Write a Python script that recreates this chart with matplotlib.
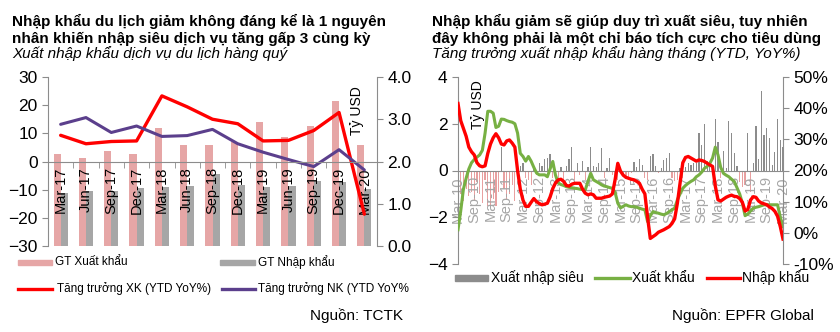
import matplotlib
matplotlib.use("Agg")
import matplotlib.pyplot as plt
from matplotlib.lines import Line2D
from matplotlib.patches import Rectangle
import numpy as np

plt.rcParams["font.family"] = ["Liberation Sans", "DejaVu Sans"]

# ---- left chart: quarterly tourism services trade ----
quarters = ["Mar-17", "Jun-17", "Sep-17", "Dec-17", "Mar-18", "Jun-18", "Sep-18",
            "Dec-18", "Mar-19", "Jun-19", "Sep-19", "Dec-19", "Mar-20"]
export_val = [2.18, 2.09, 2.26, 2.18, 2.79, 2.38, 2.40, 2.45, 2.93, 2.59, 2.83, 3.43, 2.39]
import_val = [1.25, 1.30, 1.30, 1.38, 1.39, 1.43, 1.71, 1.45, 1.39, 1.43, 1.55, 1.52, 1.35]
export_growth = [9.3, 6.3, 7.1, 7.3, 23.3, 19.4, 15.0, 13.4, 7.3, 7.5, 11.0, 17.4, -18.7]
import_growth = [13.2, 15.6, 10.3, 12.6, 8.9, 9.2, 11.4, 6.3, 3.3, 0.7, -1.8, 4.2, -3.0]

# ---- right chart: monthly goods trade, Mar-10 .. Mar-20 ----
month_labels = ["Mar-10", "Sep-10", "Mar-11", "Sep-11", "Mar-12", "Sep-12", "Mar-13",
                "Sep-13", "Mar-14", "Sep-14", "Mar-15", "Sep-15", "Mar-16", "Sep-16",
                "Mar-17", "Sep-17", "Mar-18", "Sep-18", "Mar-19", "Sep-19", "Mar-20"]
trade_balance = [
    -1.2, -1.0, -1.3, -0.8, -1.1, -0.9, -1.3, -0.5, -1.0, -1.4,
    -0.4, -1.5, -1.6, -1.2, -1.5, -0.9, 1.0, -0.8, -1.2, -1.0,
    -0.6, -1.3, -0.3, 0.2, 0.3, -0.3, -0.4, -0.6, 0.1, -0.2,
    0.3, 0.2, 0.5, 0.55, 0.7, -0.3, -0.1, -0.5, 0.15, -0.6,
    0.2, 0.5, 1.0, -0.4, 0.3, -0.2, 0.4, -0.4, 0.15, 1.0,
    0.2, 0.15, 0.3, 0.95, -0.3, 0.1, 0.55, -0.2, -0.3, -0.4,
    0.1, -0.2, -0.25, -0.3, -0.1, 0.35, 0.15, 0.5, 0.25, -0.3,
    -0.4, 0.6, 0.7, 0.2, -0.1, 0.1, 0.45, 0.55, 0.75, -0.3,
    -0.45, -0.4, 0.1, -0.3, 0.15, 0.3, 0.25, 0.3, 0.3, 1.6,
    1.1, 2.0, 0.4, 0.2, -0.2, 2.2, 1.2, -0.3, 0.85, 0.1,
    2.1, 1.6, 0.75, 0.2, -0.5, -0.7, -0.6, 1.6, -0.9, 0.3,
    1.9, 0.5, 3.4, 1.5, 1.8, 1.4, 0.25, 0.8, 2.2, 1.3,
    1.0,
]
export_yoy = [
    1.0, 7.0, 14.0, 17.5, 20.5, 22.5, 23.5, 24.3, 25.0, 26.5,
    32.0, 39.0, 39.0, 38.4, 33.8, 34.2, 36.5, 36.4, 36.0, 35.7,
    35.5, 35.0, 32.0, 25.5, 24.5, 23.0, 24.5, 23.0, 21.0, 19.2,
    18.6, 18.6, 18.6, 18.0, 20.5, 22.9, 18.5, 16.0, 15.5, 15.2,
    14.8, 14.6, 14.5, 14.3, 14.2, 14.0, 13.9, 13.8, 16.5, 19.1,
    17.0, 16.5, 16.0, 15.4, 15.0, 14.8, 14.5, 14.3, 13.0, 9.5,
    8.0, 8.5, 9.0, 8.6, 8.4, 8.4, 8.2, 7.9, 7.6, 7.4,
    3.6, 5.5, 6.8, 6.5, 6.3, 6.0, 5.8, 6.2, 6.8, 7.4,
    7.9, 10.6, 12.5, 14.3, 15.2, 15.9, 16.5, 17.0, 18.0, 18.6,
    19.5, 20.7, 21.3, 22.3, 24.0, 27.5, 25.0, 21.0, 19.1, 18.5,
    18.0, 17.2, 16.5, 14.5, 12.5, 9.5, 5.5, 6.0, 7.0, 7.9,
    8.2, 8.4, 8.7, 9.0, 9.0, 9.0, 9.0, 9.0, 9.0, 5.0,
    2.0,
]
import_yoy = [
    41.5, 36.0, 33.5, 31.0, 27.5, 26.0, 25.0, 22.5, 21.5, 21.2,
    21.5, 25.5, 28.5, 30.5, 31.8, 30.5, 28.5, 28.2, 29.5, 29.8,
    28.8, 27.5, 20.0, 14.0, 10.5, 8.5, 8.5, 9.8, 11.0, 10.0,
    9.4, 9.0, 9.2, 9.5, 11.5, 14.2, 16.0, 17.0, 17.2, 16.5,
    15.2, 15.0, 15.6, 15.9, 15.9, 15.9, 14.0, 12.7, 12.2, 12.5,
    12.2, 11.1, 11.1, 11.1, 11.4, 11.6, 11.8, 12.5, 17.0, 22.3,
    19.8, 18.5, 17.8, 17.5, 17.2, 17.0, 16.5, 15.9, 14.0, 12.5,
    5.0, -1.8, -1.2, -0.6, 0.2, 0.6, 1.0, 1.5, 2.0, 3.0,
    4.5, 9.5, 16.0, 22.5, 24.2, 24.5, 24.0, 23.5, 23.0, 23.4,
    23.2, 22.9, 22.3, 21.8, 21.3, 15.0, 10.6, 10.2, 10.8, 11.4,
    11.8, 12.1, 11.7, 11.6, 11.0, 9.8, 7.0, 7.5, 10.5, 11.6,
    11.4, 10.2, 9.6, 9.3, 9.0, 8.3, 7.8, 6.9, 5.3, 2.0,
    -2.0,
]

W, H = 840, 332
fig = plt.figure(figsize=(W / 100, H / 100), dpi=100)


def fx(x, y):
    return x / W, 1 - y / H


def axes_px(x0, y0, x1, y1):
    return fig.add_axes([x0 / W, 1 - y1 / H, (x1 - x0) / W, (y1 - y0) / H])


spine_c = "#8c8c8c"

# ================= left chart =================
axl = axes_px(48, 77, 377, 246)
axl2 = axl.twinx()
axl.set_zorder(axl2.get_zorder() + 1)
axl.patch.set_visible(False)

xq = np.arange(len(quarters))
bw = 0.28
axl2.bar(xq - bw / 2, export_val, bw, color="#e6a6a6", zorder=2)
axl2.bar(xq + bw / 2, import_val, bw, color="#a6a6a6", zorder=2)
axl2.set_ylim(0, 4)
axl2.set_yticks([0, 1, 2, 3, 4])
axl2.set_yticklabels([f"{v:.1f}" for v in [0, 1, 2, 3, 4]])

axl.plot(xq, export_growth, color="#ff0000", lw=2.4, solid_capstyle="round")
axl.plot(xq, import_growth, color="#5b3f8c", lw=2.2, solid_capstyle="round")
axl.set_ylim(-30, 30)
axl.set_yticks([-30, -20, -10, 0, 10, 20, 30])
axl.set_xlim(-0.5, len(quarters) - 0.5)

axl.spines["bottom"].set_position(("data", 0))
axl.set_xticks(xq)
axl.set_xticklabels(quarters, rotation=90, fontsize=10.5)
axl.tick_params(axis="x", which="major", length=0, pad=4)
axl.set_xticks(np.arange(-0.5, len(quarters)), minor=True)
axl.tick_params(axis="x", which="minor", length=4, color=spine_c, direction="out")

for a in (axl, axl2):
    a.spines["top"].set_visible(False)
    for s in ("left", "right", "bottom"):
        a.spines[s].set_color(spine_c)
axl2.spines["bottom"].set_visible(False)
axl.spines["right"].set_visible(False)
axl2.spines["left"].set_visible(False)
axl.tick_params(axis="y", labelsize=12.5, color=spine_c, length=4)
axl2.tick_params(axis="y", labelsize=12.5, color=spine_c, length=4)
axl.text(0.94, 0.8, "Tỷ USD", transform=axl.transAxes, rotation=90,
         fontsize=10, ha="center", va="center")

# ================= right chart =================
axr = axes_px(458, 77, 783, 264)
axr2 = axr.twinx()
xm = np.arange(len(trade_balance))
bar_cols = ["#8c8c8c" if v >= 0 else "#e8a0a0" for v in trade_balance]
axr.bar(xm, trade_balance, 0.45, color=bar_cols)
axr.set_ylim(-4, 4)
axr.set_yticks([-4, -2, 0, 2, 4])
axr.set_xlim(0, len(trade_balance) - 1)
axr.spines["bottom"].set_position(("data", 0))
axr.set_xticks(np.arange(0, len(trade_balance), 6))
axr.set_xticklabels(month_labels, rotation=90, fontsize=10.5, color="#a6a6a6")
axr.tick_params(axis="x", length=0, pad=4)

axr2.plot(xm, export_yoy, color="#77b043", lw=2.2)
axr2.plot(xm, import_yoy, color="#ff0000", lw=2.4)
axr2.set_ylim(-10, 50)
axr2.set_yticks([-10, 0, 10, 20, 30, 40, 50])
axr2.set_yticklabels([f"{v}%" for v in [-10, 0, 10, 20, 30, 40, 50]])

for a in (axr, axr2):
    a.spines["top"].set_visible(False)
    for s in ("left", "right", "bottom"):
        a.spines[s].set_color(spine_c)
axr2.spines["bottom"].set_visible(False)
axr.spines["right"].set_visible(False)
axr2.spines["left"].set_visible(False)
axr.tick_params(axis="y", labelsize=12.5, color=spine_c, length=4)
axr2.tick_params(axis="y", labelsize=12.5, color=spine_c, length=4)
axr.text(0.062, 0.85, "Tỷ USD", transform=axr.transAxes, rotation=90,
         fontsize=10, ha="center", va="center")

# ================= titles =================
fig.text(*fx(12, 26), "Nhập khẩu du lịch giảm không đáng kể là 1 nguyên",
         fontsize=11, fontweight="bold", va="baseline")
fig.text(*fx(12, 43), "nhân khiến nhập siêu dịch vụ tăng gấp 3 cùng kỳ",
         fontsize=11, fontweight="bold", va="baseline")
fig.text(*fx(12, 58), "Xuất nhập khẩu dịch vụ du lịch hàng quý",
         fontsize=11, style="italic", va="baseline")

fig.text(*fx(432, 26), "Nhập khẩu giảm sẽ giúp duy trì xuất siêu, tuy nhiên",
         fontsize=11, fontweight="bold", va="baseline")
fig.text(*fx(432, 43), "đây không phải là một chỉ báo tích cực cho tiêu dùng",
         fontsize=11, fontweight="bold", va="baseline")
fig.text(*fx(432, 58), "Tăng trưởng xuất nhập khẩu hàng tháng (YTD, YoY%)",
         fontsize=11, style="italic", va="baseline")

# ================= legends =================
def leg_patch(x0, x1, y, color, h=5):
    fig.add_artist(Rectangle(fx(x0, y + h / 2), (x1 - x0) / W, h / H,
                             transform=fig.transFigure, color=color))


def leg_line(x0, x1, y, color, lw=2.4):
    fig.add_artist(Line2D([x0 / W, x1 / W], [1 - y / H, 1 - y / H],
                          transform=fig.transFigure, color=color, lw=lw))


leg_patch(18, 52, 262, "#e6a6a6")
fig.text(*fx(55, 262), "GT Xuất khẩu", fontsize=8.5, va="center")
leg_patch(220, 255, 262, "#a6a6a6")
fig.text(*fx(258, 262), "GT Nhập khẩu", fontsize=8.5, va="center")
leg_line(18, 52, 289, "#ff0000")
fig.text(*fx(57, 289), "Tăng trưởng XK (YTD YoY%)", fontsize=8.5, va="center")
leg_line(222, 255, 289, "#5b3f8c")
fig.text(*fx(258, 289), "Tăng trưởng NK (YTD YoY%", fontsize=8.5, va="center")
fig.text(*fx(403, 320), "Nguồn: TCTK", fontsize=11, ha="right", va="baseline")

leg_patch(455, 488, 278, "#8c8c8c", h=6)
fig.text(*fx(491, 278), "Xuất nhập siêu", fontsize=10, va="center")
leg_line(595, 630, 278, "#77b043")
fig.text(*fx(632, 278), "Xuất khẩu", fontsize=10, va="center")
leg_line(707, 740, 278, "#ff0000")
fig.text(*fx(742, 278), "Nhập khẩu", fontsize=10, va="center")
fig.text(*fx(814, 320), "Nguồn: EPFR Global", fontsize=11, ha="right", va="baseline")

fig.savefig("out.png", dpi=100)
